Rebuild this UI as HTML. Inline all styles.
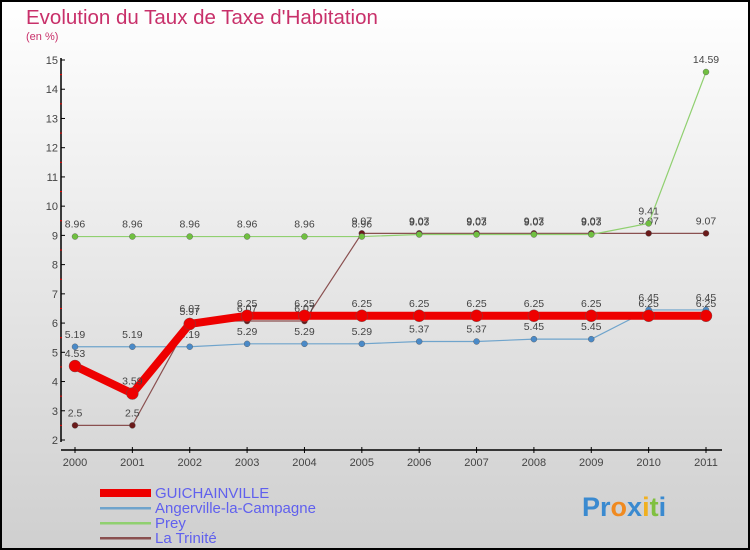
<!DOCTYPE html>
<html><head><meta charset="utf-8"><style>
body{margin:0}
svg{display:block;font-family:"Liberation Sans",sans-serif}
</style></head><body>
<svg id="c" width="750" height="550" viewBox="0 0 750 550">
<defs><linearGradient id="bg" x1="0" y1="0" x2="0" y2="1"><stop offset="0" stop-color="#ffffff"/><stop offset="1" stop-color="#cfcfcf"/></linearGradient></defs>
<rect x="1" y="1" width="748" height="548" fill="url(#bg)" stroke="#000" stroke-width="2"/>
<text x="26" y="24" font-size="20.5" fill="#c8306a">Evolution du Taux de Taxe d'Habitation</text>
<text x="26" y="40" font-size="11" fill="#c8306a">(en %)</text>
<g id="axes"></g><g id="series"></g>
<g>
<rect x="100" y="489" width="51" height="8" fill="#e00"/>
<text x="155" y="498" font-size="15" fill="#6060ee">GUICHAINVILLE</text>
<rect x="100" y="507" width="51" height="2.5" fill="#6fa4cc"/>
<text x="155" y="513" font-size="15" fill="#6060ee">Angerville-la-Campagne</text>
<rect x="100" y="522" width="51" height="2.5" fill="#90d070"/>
<text x="155" y="528" font-size="15" fill="#6060ee">Prey</text>
<rect x="100" y="537" width="51" height="2.5" fill="#8a5050"/>
<text x="155" y="543" font-size="15" fill="#6060ee">La Trinité</text>
</g>
<text x="582" y="516" font-size="27" font-weight="bold"><tspan fill="#3a8ad0">Pr</tspan><tspan fill="#f08a20">o</tspan><tspan fill="#3a8ad0">x</tspan><tspan fill="#f0b020">i</tspan><tspan fill="#80c040">t</tspan><tspan fill="#3a8ad0">i</tspan></text>
</svg>
<script>
const years=[2000,2001,2002,2003,2004,2005,2006,2007,2008,2009,2010,2011];
const guichainville=[4.53,3.59,5.97,6.25,6.25,6.25,6.25,6.25,6.25,6.25,6.25,6.25];
const angerville=[5.19,5.19,5.19,5.29,5.29,5.29,5.37,5.37,5.45,5.45,6.45,6.45];
const prey=[8.96,8.96,8.96,8.96,8.96,8.96,9.03,9.03,9.03,9.03,9.41,14.59];
const trinite=[2.5,2.5,6.07,6.07,6.07,9.07,9.07,9.07,9.07,9.07,9.07,9.07];
const yTicks=[2,3,4,5,6,7,8,9,10,11,12,13,14,15];
const NS="http://www.w3.org/2000/svg";
const xs=i=>75+i*(706-75)/(years.length-1);
const ys=v=>440-(v-2)*(380/13);
function el(t,a,p){const e=document.createElementNS(NS,t);for(const k in a)e.setAttribute(k,a[k]);p.appendChild(e);return e;}
const ax=document.getElementById('axes');
const ya=el('line',{x1:61,y1:58,x2:61,y2:442,stroke:'#000','stroke-width':1.5},ax);


const xa=el('line',{x1:61,y1:450,x2:722,y2:450,stroke:'#000','stroke-width':1.5},ax);


yTicks.forEach((v,k)=>{
 el('line',{x1:61,y1:ys(v),x2:65,y2:ys(v),stroke:'#000'},ax);
 if(k<yTicks.length-1)el('line',{x1:60,y1:ys(v+0.5),x2:62,y2:ys(v+0.5),stroke:'#e00'},ax);
 const t=el('text',{x:58,y:ys(v)+4,'font-size':11,fill:'#444','text-anchor':'end'},ax);t.textContent=v;
 
 
});
years.forEach((y,i)=>{
 el('line',{x1:xs(i),y1:447,x2:xs(i),y2:453,stroke:'#000'},ax);
 const t=el('text',{x:xs(i),y:466,'font-size':11,fill:'#444','text-anchor':'middle'},ax);t.textContent=y;
 
 
});
const sg=document.getElementById('series');
function series(vals,color,w,r,dot,name){
 const g=el('g',{},sg);
 
 
 el('polyline',{points:vals.map((v,i)=>xs(i)+','+ys(v)).join(' '),fill:'none',stroke:color,'stroke-width':w,'stroke-linejoin':'round'},g);
 vals.forEach((v,i)=>{
  const c=el('circle',{cx:xs(i),cy:ys(v),r:r,fill:dot,stroke:'#555','stroke-width':0.4},g);
  
  
  const t=el('text',{x:xs(i),y:ys(v)-9,'font-size':10.5,fill:'#444','text-anchor':'middle'},g);t.textContent=String(v);
  
  
 });
}
series(trinite,'#8a5050',1.2,3,'#6a1a1a','series-la-trinite');
series(prey,'#90d070',1.2,3,'#70c040','series-prey');
series(angerville,'#6fa4cc',1.2,3,'#4a8ac8','series-angerville');
series(guichainville,'#e00',8,6,'#e00','series-guichainville');
</script>
</body></html>
